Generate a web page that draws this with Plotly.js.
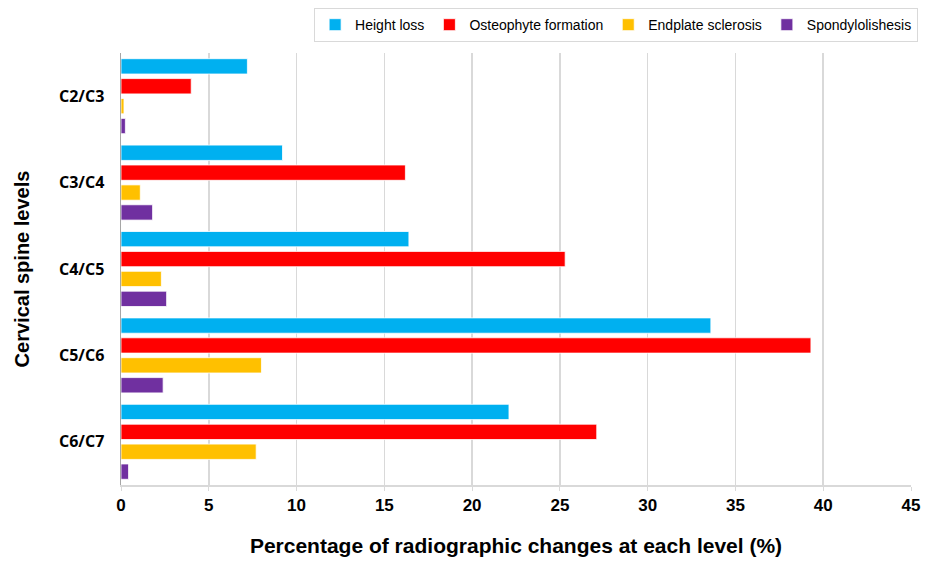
<!DOCTYPE html>
<html>
<head>
<meta charset="utf-8">
<script src="https://cdn.plot.ly/plotly-3.0.1.min.js"></script>
<style>html,body{margin:0;padding:0;background:#fff;}#chart{width:936px;height:562px;}</style>
</head>
<body>
<div id="chart"></div>
<script>
const levels = ["C2/C3", "C3/C4", "C4/C5", "C5/C6", "C6/C7"];
const seriesNames = ["Height loss", "Osteophyte formation", "Endplate sclerosis", "Spondylolishesis"];
const heightLoss = [7.2, 9.2, 16.4, 33.6, 22.1];
const osteophyte = [4.0, 16.2, 25.3, 39.3, 27.1];
const endplate = [0.17, 1.1, 2.3, 8.0, 7.7];
const spondylo = [0.25, 1.8, 2.6, 2.4, 0.43];
const colors = ["#00B0F0", "#FF0000", "#FFC000", "#7030A0"];
const xTicks = [0, 5, 10, 15, 20, 25, 30, 35, 40, 45];

const values = [heightLoss, osteophyte, endplate, spondylo];
const traces = values.map((v, i) => ({
  type: "bar",
  orientation: "h",
  name: seriesNames[i],
  x: v,
  y: levels,
  marker: {color: colors[i], line: {color: "#ffffff", width: 0.8}},
  hoverinfo: "x+name"
}));

const layout = {
  width: 936, height: 562,
  margin: {l: 121, r: 25, t: 53, b: 77, autoexpand: false},
  paper_bgcolor: "#ffffff", plot_bgcolor: "#ffffff",
  barmode: "group", bargap: 0.079, bargroupgap: 0.23,
  showlegend: true,
  legend: {
    orientation: "h", x: 1.009, xanchor: "right", y: 1.104, yanchor: "top",
    bordercolor: "#d9d9d9", borderwidth: 1, bgcolor: "#ffffff",
    font: {family: "Liberation Sans, Arial, sans-serif", size: 14, color: "#000"},
    itemwidth: 30, tracegroupgap: 0, traceorder: "normal"
  },
  xaxis: {
    range: [0, 45], tickvals: xTicks, ticktext: xTicks.map(String),
    showgrid: true, gridcolor: "#d9d9d9", gridwidth: 1.5,
    zeroline: false, showline: true, linecolor: "#d9d9d9", linewidth: 1.5,
    mirror: false, ticks: "outside", ticklen: 4, tickcolor: "#d9d9d9",
    tickfont: {family: "Liberation Sans Narrow, Arial Narrow, Liberation Sans, sans-serif", size: 17, color: "#000", weight: "bold"},
    title: {text: "<b>Percentage of radiographic changes at each level (%)</b>", standoff: 24,
            font: {family: "Liberation Sans Narrow, Arial Narrow, Liberation Sans, sans-serif", size: 21, color: "#000"}},
    fixedrange: true
  },
  yaxis: {
    autorange: "reversed", type: "category",
    showgrid: false, zeroline: false, showline: true, linecolor: "#a6a6a6", linewidth: 1.5,
    ticks: "", ticklabelstandoff: 12,
    tickfont: {family: "Open Sans, Liberation Sans, sans-serif", size: 16, color: "#000", weight: "bold"},
    title: {text: "<b>Cervical spine levels</b>", standoff: 24,
            font: {family: "Liberation Sans, Arial, sans-serif", size: 20, color: "#000"}},
    fixedrange: true
  }
};

Plotly.newPlot("chart", traces, layout, {displayModeBar: false, staticPlot: true});
</script>
</body>
</html>
